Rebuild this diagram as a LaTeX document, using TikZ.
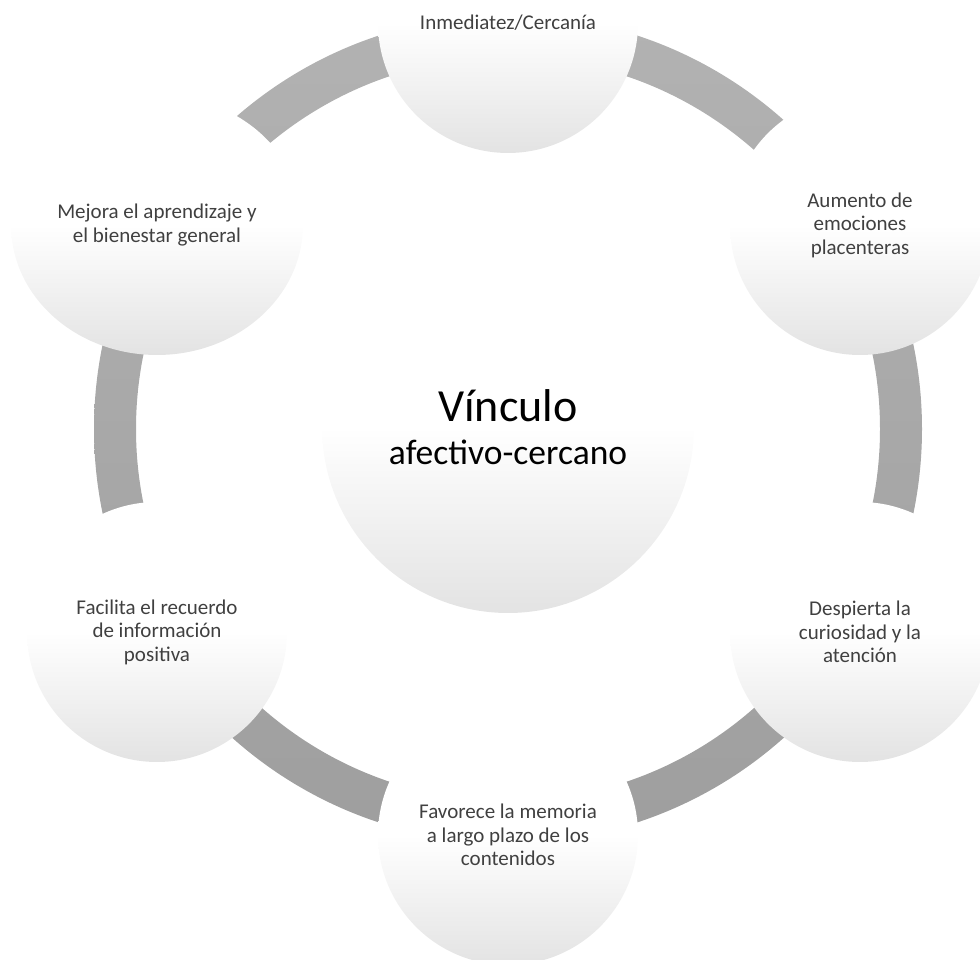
\documentclass[tikz,border=0pt]{standalone}
\usepackage{fontspec}
\setmainfont{Carlito}
\usetikzlibrary{shapes.geometric}
\begin{document}
\begin{tikzpicture}[x=1pt,y=1pt,
  bubble/.style={circle,minimum size=260pt,inner sep=0pt,
    top color=white,bottom color=black!11,middle color=white,
    text=black!75,align=center,font=\fontsize{21}{23.5}\selectfont}]
\useasboundingbox (0,0) rectangle (980,960);
\clip (0,0) rectangle (980,960);
\pgfmathsetmacro{\ro}{414}
\pgfmathsetmacro{\ri}{372}
\coordinate (hub) at (508,531);
% ring behind the bubbles, seam hidden under the bottom bubble
\begin{scope}
\clip ([shift={(-90:\ro)}]hub) arc (-90:270:\ro)
  -- ([shift={(270:\ri)}]hub) arc (270:-90:\ri) -- cycle;
\shade[top color=black!30,bottom color=black!38]
  ([shift={(-430,-430)}]hub) rectangle ([shift={(430,430)}]hub);
\end{scope}
\node[bubble] (inmed) at (508,937) {Inmediatez/Cercanía};
\node[bubble] (aument) at (860,735) {Aumento de\\emociones\\placenteras};
\node[bubble] (desp) at (860,328) {Despierta la\\curiosidad y la\\atención};
\node[bubble] (favor) at (508,125) {Favorece la memoria\\a largo plazo de los\\contenidos};
\node[bubble] (facil) at (157,328) {Facilita el recuerdo\\de información\\positiva};
\node[bubble,ellipse,minimum width=292pt,minimum height=260pt] (mejora) at (157,735)
  {Mejora el aprendizaje y\\el bienestar general};
% centre
\node[bubble,minimum size=372pt,text=black,font=\fontsize{46}{43}\selectfont] (vinculo) at (508,533)
  {Vínculo\\{\fontsize{35.5}{43}\selectfont afectivo-cercano}};
\end{tikzpicture}
\end{document}
